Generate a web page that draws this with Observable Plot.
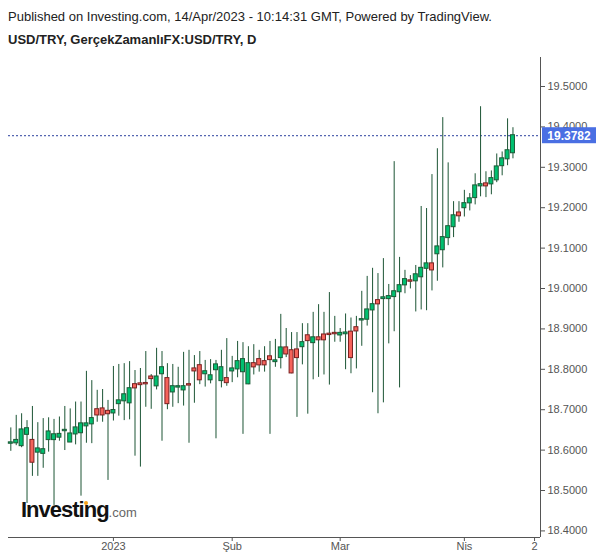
<!DOCTYPE html>
<html><head><meta charset="utf-8">
<script src="https://cdn.jsdelivr.net/npm/d3@7"></script>
<script src="https://cdn.jsdelivr.net/npm/@observablehq/plot@0.6"></script>
<style>
body{margin:0;background:#fff;font-family:"Liberation Sans",Arial,sans-serif;}
#wrap{position:relative;width:600px;height:558px;overflow:hidden;background:#fff;}
#h1{position:absolute;left:8px;top:9px;font-size:13px;color:#222;white-space:nowrap;}
#h2{position:absolute;left:8px;top:32px;font-size:13px;font-weight:bold;color:#222;white-space:nowrap;}
#chart{position:absolute;left:0;top:50px;}
#logo{position:absolute;left:21px;top:497px;white-space:nowrap;pointer-events:none;}
#logo .a{font-size:22px;font-weight:bold;color:#111;letter-spacing:-1px;}
#logo .b{font-size:13px;color:#666;}
#dot{position:absolute;left:84px;top:501px;width:4px;height:4px;border-radius:2px;background:#f7a21b;}
</style></head>
<body>
<div id="wrap">
  <div id="h1">Published on Investing.com, 14/Apr/2023 - 10:14:31 GMT, Powered by TradingView.</div>
  <div id="h2">USD/TRY, GerçekZamanlıFX:USD/TRY, D</div>
  <div id="chart"></div>
  <div id="logo"><span class="a">Investing</span><span class="b">.com</span></div>
  <div id="dot"></div>
</div>
<script>
// Daily candles, 6 Dec 2022 – 14 Apr 2023 (trading-day index)
const opens = [
18.617, 18.618, 18.611, 18.639, 18.624, 18.595, 18.592, 18.626, 18.626, 18.632,
18.648, 18.620, 18.640, 18.643, 18.660, 18.665, 18.700, 18.702, 18.696, 18.692,
18.715, 18.722, 18.717, 18.762, 18.764, 18.765, 18.781, 18.759, 18.789, 18.777,
18.744, 18.756, 18.749, 18.762, 18.801, 18.809, 18.789, 18.774, 18.799, 18.772,
18.777, 18.796, 18.801, 18.794, 18.764, 18.814, 18.824, 18.819, 18.831, 18.819,
18.829, 18.853, 18.846, 18.848, 18.856, 18.883, 18.866, 18.878, 18.885, 18.887,
18.889, 18.885, 18.888, 18.892, 18.903, 18.922, 18.924, 18.947, 18.970, 18.975,
18.975, 18.980, 18.992, 19.009, 19.019, 19.019, 19.029, 19.050, 19.061, 19.086,
19.096, 19.126, 19.153, 19.187, 19.200, 19.212, 19.225, 19.254, 19.259, 19.259,
19.269, 19.304, 19.321, 19.336];
const highs = [
18.655, 18.686, 18.690, 18.673, 18.708, 18.668, 18.678, 18.680, 18.676, 18.682,
18.708, 18.702, 18.719, 18.719, 18.795, 18.772, 18.748, 18.750, 18.723, 18.807,
18.812, 18.814, 18.819, 18.797, 18.802, 18.844, 18.787, 18.852, 18.844, 18.814,
18.812, 18.805, 18.842, 18.847, 18.834, 18.844, 18.822, 18.824, 18.822, 18.847,
18.876, 18.832, 18.869, 18.866, 18.856, 18.861, 18.847, 18.856, 18.869, 18.874,
18.936, 18.901, 18.891, 18.891, 18.913, 18.913, 18.941, 18.960, 18.941, 18.990,
18.931, 18.901, 18.937, 18.927, 18.931, 18.993, 19.030, 19.050, 19.037, 19.074,
19.010, 19.314, 19.077, 19.045, 19.032, 19.057, 19.203, 19.198, 19.282, 19.346,
19.423, 19.311, 19.215, 19.215, 19.243, 19.235, 19.284, 19.450, 19.289, 19.291,
19.333, 19.338, 19.420, 19.398];
const lows = [
18.597, 18.611, 18.606, 18.468, 18.535, 18.535, 18.555, 18.595, 18.463, 18.622,
18.599, 18.619, 18.613, 18.486, 18.617, 18.616, 18.669, 18.669, 18.525, 18.672,
18.684, 18.673, 18.675, 18.585, 18.558, 18.706, 18.701, 18.749, 18.622, 18.700,
18.706, 18.715, 18.709, 18.617, 18.716, 18.762, 18.756, 18.764, 18.628, 18.754,
18.758, 18.767, 18.779, 18.639, 18.762, 18.786, 18.793, 18.793, 18.639, 18.805,
18.801, 18.829, 18.789, 18.681, 18.811, 18.689, 18.774, 18.780, 18.786, 18.761,
18.867, 18.867, 18.799, 18.789, 18.801, 18.857, 18.907, 18.742, 18.690, 18.717,
18.863, 18.893, 18.754, 18.987, 18.999, 18.942, 18.947, 18.945, 18.994, 19.018,
19.051, 19.106, 19.126, 19.164, 19.177, 19.192, 19.207, 19.227, 19.225, 19.232,
19.262, 19.279, 19.304, 19.321];
const closes = [
18.618, 18.624, 18.650, 18.653, 18.570, 18.603, 18.601, 18.645, 18.638, 18.639,
18.649, 18.640, 18.655, 18.665, 18.665, 18.678, 18.687, 18.687, 18.690, 18.698,
18.722, 18.737, 18.752, 18.754, 18.762, 18.764, 18.777, 18.781, 18.804, 18.715,
18.757, 18.757, 18.757, 18.761, 18.796, 18.774, 18.794, 18.784, 18.811, 18.804,
18.767, 18.801, 18.819, 18.824, 18.814, 18.806, 18.811, 18.811, 18.824, 18.821,
18.853, 18.838, 18.791, 18.829, 18.866, 18.871, 18.878, 18.873, 18.873, 18.886,
18.888, 18.889, 18.890, 18.829, 18.895, 18.923, 18.947, 18.960, 18.962, 18.977,
18.980, 18.992, 19.007, 19.022, 19.018, 19.034, 19.050, 19.061, 19.046, 19.103,
19.126, 19.153, 19.180, 19.180, 19.210, 19.222, 19.254, 19.257, 19.254, 19.272,
19.301, 19.321, 19.341, 19.3782];

const xTickIdx = [19, 41, 61, 84, 97];
const xTickLabels = ["2023", "Şub", "Mar", "Nis", "2"];
const yTicks = [18.4, 18.5, 18.6, 18.7, 18.8, 18.9, 19.0, 19.1, 19.2, 19.3, 19.4, 19.5];
const lastPrice = 19.3782;

const xDomain = [-0.43, 98.1];
const yDomain = [18.3837, 19.5718];

const upFill = "#00c070", upLine = "#1b5a36";
const dnFill = "#f5635a", dnLine = "#7a2020";
const wick = "#1c5535";

const bars = opens.map((o, i) => ({i, o, h: highs[i], l: lows[i], c: closes[i]}));
const up = bars.filter(d => d.c >= d.o);
const dn = bars.filter(d => d.c < d.o);

const body = (data, fill, stroke) => Plot.rect(data, {
  x1: d => d.i - 0.37, x2: d => d.i + 0.37, y1: "o", y2: "c",
  fill, stroke, strokeWidth: 1, insetTop: -0.5, insetBottom: -0.5
});

const chart = Plot.plot({
  width: 600, height: 508,
  marginTop: 7, marginBottom: 21, marginLeft: 8, marginRight: 60,
  style: {fontFamily: "'Liberation Sans', Arial, sans-serif", fontSize: "11px", color: "#555", background: "#fff"},
  x: {type: "linear", domain: xDomain, axis: null},
  y: {domain: yDomain, axis: null},
  marks: [
    Plot.ruleY([lastPrice], {stroke: "#2b3f9e", strokeDasharray: "2,2", strokeWidth: 1}),
    Plot.ruleX(bars, {x: "i", y1: "l", y2: "h", stroke: wick, strokeWidth: 1}),
    body(up, upFill, upLine),
    body(dn, dnFill, dnLine),
    Plot.ruleX([xDomain[1]], {stroke: "#555", strokeWidth: 1}),
    Plot.ruleY([yDomain[0]], {stroke: "#555", strokeWidth: 1}),
    Plot.axisY({anchor: "right", label: null, ticks: yTicks, tickFormat: d3.format(".4f"), tickSize: 4, tickPadding: 3, fill: "#555"}),
    Plot.axisX({anchor: "bottom", label: null, ticks: xTickIdx, tickFormat: d => xTickLabels[xTickIdx.indexOf(d)], tickSize: 4, tickPadding: 1, fill: "#555"})
  ]
});

const svg = d3.select(chart);
const yPix = chart.scale("y").apply(lastPrice);
const xR = chart.scale("x").apply(xDomain[1]);
svg.append("rect").attr("x", xR + 2).attr("y", yPix - 8).attr("width", 54).attr("height", 16).attr("fill", "#4a6fe3");
svg.append("text").attr("x", xR + 29).attr("y", yPix).attr("dy", "0.36em").attr("text-anchor", "middle")
  .attr("fill", "#fff").attr("font-size", 12).attr("font-weight", "bold").text(d3.format(".4f")(lastPrice));

document.getElementById("chart").appendChild(chart);
</script>
</body></html>
